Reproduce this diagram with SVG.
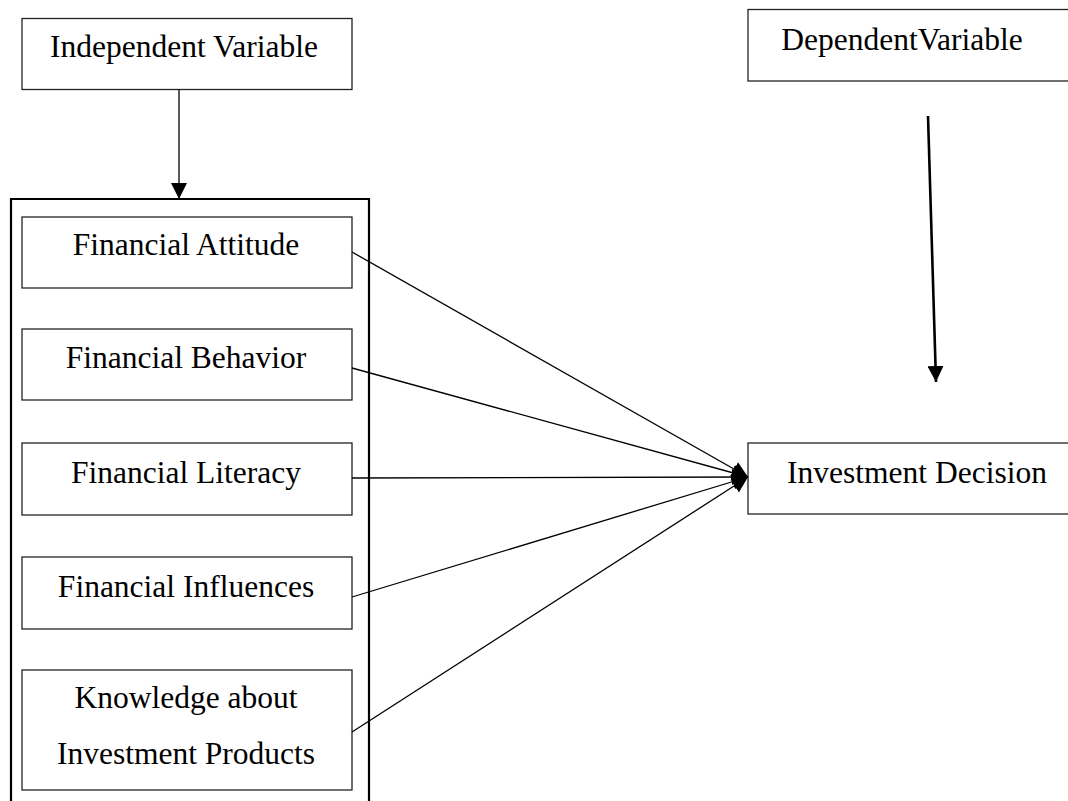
<svg xmlns="http://www.w3.org/2000/svg" width="1068" height="801" viewBox="0 0 1068 801">
<style>
.box{fill:#fff;stroke:#222;stroke-width:1.3}
.t{font-family:"Liberation Serif","Times New Roman",serif;font-size:31.5px;fill:#000;text-anchor:middle}
.c{stroke:#000;stroke-width:1.3;fill:none}
.thick{stroke-width:2.6}
</style>
<defs>
<marker id="ah" markerWidth="16" markerHeight="16" refX="16" refY="8" orient="auto" markerUnits="userSpaceOnUse" viewBox="0 0 16 16">
<path d="M0,0 L16,8 L0,16 Z" fill="#000"/>
</marker>
<marker id="ahs" markerWidth="16" markerHeight="28" refX="16" refY="14" orient="auto" markerUnits="userSpaceOnUse" viewBox="0 0 16 28">
<path d="M0,6 L16,14 L0,22 Z" fill="#000"/>
</marker>
</defs>
<rect width="1068" height="801" fill="#fff"/>
<g id="outer">
<path d="M11,801 L11,199 L369,199 L369,801" fill="none" stroke="#000" stroke-width="2.2"/>
</g>
<g id="independent">
<rect class="box" x="22" y="18.5" width="330" height="71"/>
<text class="t" x="184" y="57">Independent Variable</text>
</g>
<g id="dependent">
<rect class="box" x="748" y="9.5" width="340" height="71.5"/>
<text class="t" x="902" y="50">DependentVariable</text>
</g>
<g id="attitude">
<rect class="box" x="22" y="217" width="330" height="71"/>
<text class="t" x="186" y="255">Financial Attitude</text>
</g>
<g id="behavior">
<rect class="box" x="22" y="329" width="330" height="71"/>
<text class="t" x="186" y="368">Financial Behavior</text>
</g>
<g id="literacy">
<rect class="box" x="22" y="443" width="330" height="72"/>
<text class="t" x="186" y="483">Financial Literacy</text>
</g>
<g id="influences">
<rect class="box" x="22" y="557" width="330" height="72"/>
<text class="t" x="186" y="597">Financial Influences</text>
</g>
<g id="knowledge">
<rect class="box" x="22" y="670" width="330" height="120"/>
<text class="t" x="186" y="708">Knowledge about</text>
<text class="t" x="186" y="764">Investment Products</text>
</g>
<g id="decision">
<rect class="box" x="748" y="443" width="340" height="71"/>
<text class="t" x="917" y="483">Investment Decision</text>
</g>
<g id="connectors">
<line class="c" x1="179" y1="89.5" x2="179" y2="199" marker-end="url(#ah)"/>
<line class="c thick" x1="928" y1="116" x2="936" y2="382" marker-end="url(#ah)"/>
<line class="c" x1="352" y1="252" x2="748" y2="477" marker-end="url(#ahs)"/>
<line class="c" x1="352" y1="368" x2="748" y2="477" marker-end="url(#ahs)"/>
<line class="c" x1="352" y1="478" x2="748" y2="477" marker-end="url(#ahs)"/>
<line class="c" x1="352" y1="597" x2="748" y2="477" marker-end="url(#ahs)"/>
<line class="c" x1="352" y1="732" x2="748" y2="477" marker-end="url(#ahs)"/>
</g>
</svg>
